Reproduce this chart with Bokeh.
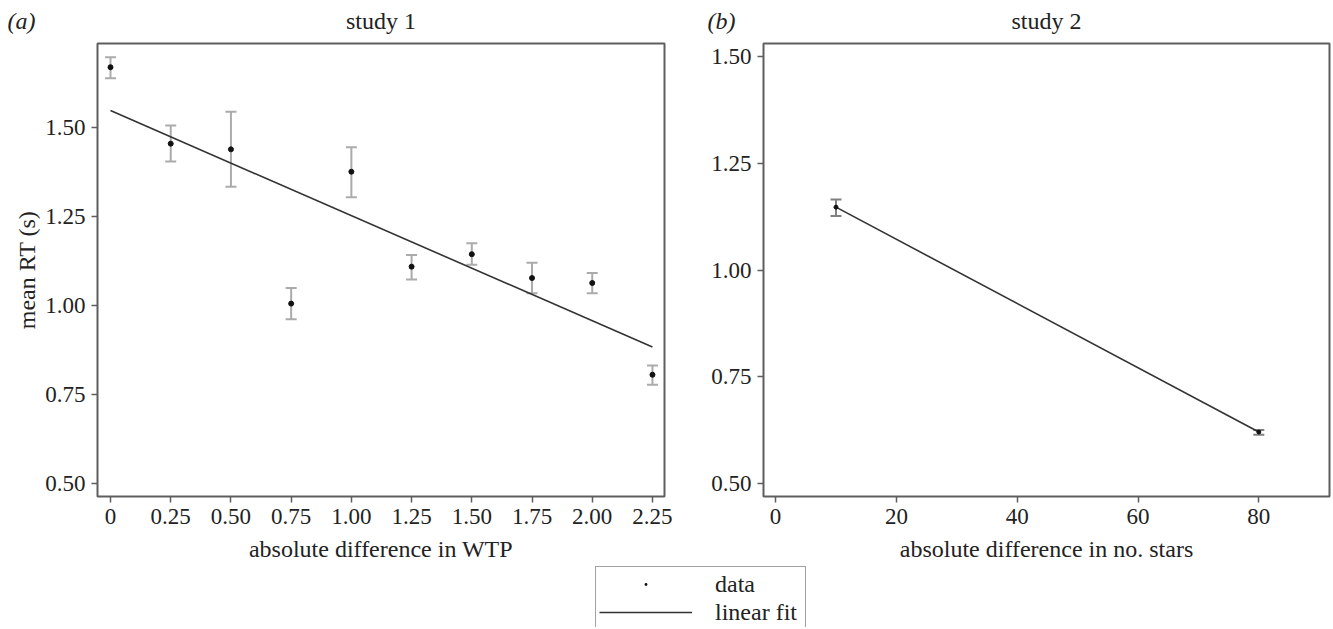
from bokeh.plotting import figure
from bokeh.layouts import column, row
from bokeh.models import (ColumnDataSource, Whisker, TeeHead, FixedTicker, Range1d,
                          Label, Legend, LegendItem, Spacer)
from bokeh.embed import file_html
from bokeh.resources import INLINE

# ---------------- data ----------------
# study 1
wtp_diff = [0, 0.25, 0.5, 0.75, 1.0, 1.25, 1.5, 1.75, 2.0, 2.25]
rt1_mean = [1.671, 1.456, 1.440, 1.006, 1.377, 1.110, 1.145, 1.078, 1.064, 0.806]
rt1_upper = [1.699, 1.507, 1.546, 1.050, 1.446, 1.143, 1.176, 1.121, 1.092, 0.832]
rt1_lower = [1.640, 1.406, 1.335, 0.962, 1.305, 1.074, 1.115, 1.035, 1.035, 0.778]
fit1_x = [0, 2.25]
fit1_y = [1.549, 0.884]

# study 2
stars_diff = [10, 80]
rt2_mean = [1.147, 0.621]
rt2_upper = [1.165, 0.626]
rt2_lower = [1.126, 0.615]
fit2_x = [10, 80]
fit2_y = [1.147, 0.621]

x1_ticks = [0, 0.25, 0.5, 0.75, 1.0, 1.25, 1.5, 1.75, 2.0, 2.25]
x1_tick_labels = ["0", "0.25", "0.50", "0.75", "1.00", "1.25", "1.50", "1.75", "2.00", "2.25"]
x2_ticks = [0, 20, 40, 60, 80]
x2_tick_labels = ["0", "20", "40", "60", "80"]
y_ticks = [0.5, 0.75, 1.0, 1.25, 1.5]
y_tick_labels = ["0.50", "0.75", "1.00", "1.25", "1.50"]

panel_tags = ["(a)", "(b)"]
panel_titles = ["study 1", "study 2"]

FONT = "Liberation Serif"
FS_TICK = "23px"
FS = "24px"
FRAME = "#5e5e5e"
TXT = "#222222"

W1, W2 = 685, 646          # widths of the two panels
HH = 41                    # header height
HP = 524                   # panel height
HL = 62                    # legend row height


def bare(w, h, rng=(0, 1)):
    f = figure(width=w, height=h, output_backend="svg", toolbar_location=None, title=None,
               x_range=Range1d(*rng), y_range=Range1d(*rng),
               x_axis_location=None, y_axis_location=None, min_border=0)
    f.grid.visible = False
    f.outline_line_color = None
    return f


def style(p, xticks, xlabels, xlabel, ylabel):
    p.grid.visible = False
    p.outline_line_color = FRAME
    p.outline_line_width = 2
    p.xaxis.ticker = FixedTicker(ticks=xticks)
    p.xaxis.major_label_overrides = dict(zip(xticks, xlabels))
    p.yaxis.ticker = FixedTicker(ticks=y_ticks)
    p.yaxis.major_label_overrides = dict(zip(y_ticks, y_tick_labels))
    for ax in (p.xaxis[0], p.yaxis[0]):
        ax.axis_line_color = None
        ax.major_tick_line_color = FRAME
        ax.major_tick_line_width = 1.5
        ax.major_tick_out = 6
        ax.major_tick_in = 0
        ax.minor_tick_line_color = None
        ax.major_label_text_font = FONT
        ax.major_label_text_font_size = FS_TICK
        ax.major_label_text_color = TXT
        ax.major_label_standoff = 6
        ax.axis_label_text_font = FONT
        ax.axis_label_text_font_size = FS
        ax.axis_label_text_font_style = "normal"
        ax.axis_label_text_color = TXT
    p.xaxis.axis_label = xlabel
    p.xaxis.axis_label_standoff = 9
    if ylabel:
        p.yaxis.axis_label = ylabel
        p.yaxis.axis_label_standoff = 2


# ---------------- header: panel tags and titles ----------------
hdr = bare(W1 + W2, HH)
for tag, tx in zip(panel_tags, [7, W1 + 22]):
    hdr.add_layout(Label(x=tx, y=21, x_units="screen", y_units="screen", text=tag,
                         text_font=FONT, text_font_size=FS, text_font_style="italic",
                         text_color=TXT, text_baseline="alphabetic", text_align="left"))
for ttl, tx in zip(panel_titles, [380.5, 1046]):
    hdr.add_layout(Label(x=tx, y=21, x_units="screen", y_units="screen", text=ttl,
                         text_font=FONT, text_font_size=FS, text_color=TXT,
                         text_baseline="alphabetic", text_align="center"))

# ---------------- panel (a) ----------------
p1 = figure(width=W1, height=HP, x_range=Range1d(-0.054, 2.300), y_range=Range1d(0.4634, 1.7377),
            output_backend="svg", toolbar_location=None, title=None,
            min_border_left=97, min_border_right=21, min_border_top=2, min_border_bottom=HP - 455)
style(p1, x1_ticks, x1_tick_labels, "absolute difference in WTP", "mean RT (s)")

src1 = ColumnDataSource(dict(x=wtp_diff, y=rt1_mean, upper=rt1_upper, lower=rt1_lower))
w1 = Whisker(source=src1, base="x", upper="upper", lower="lower", dimension="height",
             line_color="#ababab", line_width=2, level="underlay",
             upper_head=TeeHead(size=11, line_color="#ababab", line_width=2),
             lower_head=TeeHead(size=11, line_color="#ababab", line_width=2))
p1.add_layout(w1)
p1.line(fit1_x, fit1_y, line_color="#333333", line_width=1.6)
p1.scatter("x", "y", source=src1, size=5, color="#111111")

# ---------------- panel (b) ----------------
p2 = figure(width=W2, height=HP, x_range=Range1d(-2, 91.7), y_range=Range1d(0.4703, 1.5297),
            output_backend="svg", toolbar_location=None, title=None,
            min_border_left=78, min_border_right=2, min_border_top=2, min_border_bottom=HP - 455)
style(p2, x2_ticks, x2_tick_labels, "absolute difference in no. stars", None)

src2 = ColumnDataSource(dict(x=stars_diff, y=rt2_mean, upper=rt2_upper, lower=rt2_lower))
w2 = Whisker(source=src2, base="x", upper="upper", lower="lower", dimension="height",
             line_color="#808080", line_width=2, level="underlay",
             upper_head=TeeHead(size=11, line_color="#808080", line_width=2),
             lower_head=TeeHead(size=11, line_color="#808080", line_width=2))
p2.add_layout(w2)
p2.line(fit2_x, fit2_y, line_color="#333333", line_width=1.6)
p2.scatter("x", "y", source=src2, size=4, color="#111111")

# ---------------- legend (its sample renderers lie outside the view) ----------------
pl = bare(214, HL, rng=(-10, -9))
r_dot = pl.scatter(wtp_diff, rt1_mean, marker="dot", size=4, color="#111111", line_width=1)
r_line = pl.line(fit1_x, fit1_y, line_color="#333333", line_width=1.6)
leg = Legend(items=[LegendItem(label="data", renderers=[r_dot]),
                    LegendItem(label="linear fit", renderers=[r_line])],
             location="top_left", margin=1, padding=3, spacing=0,
             label_height=28, glyph_height=28, glyph_width=93, label_standoff=23, label_width=87,
             border_line_color="#444444", border_line_width=1.5, background_fill_color="white",
             background_fill_alpha=1, label_text_font=FONT, label_text_font_size=FS,
             label_text_color=TXT)
pl.add_layout(leg)

layout = column(hdr, row(p1, p2), row(Spacer(width=594, height=HL), pl))

open("out.html", "w").write(file_html(layout, INLINE))
